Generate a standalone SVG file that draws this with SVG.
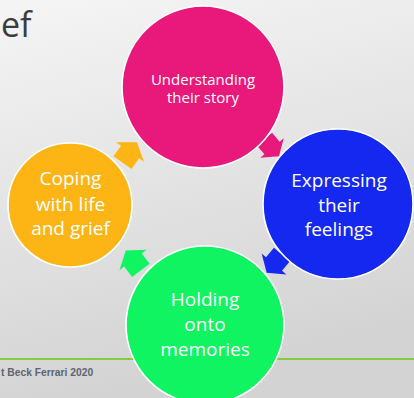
<svg xmlns="http://www.w3.org/2000/svg" width="414" height="398" viewBox="0 0 414 398">
  <defs>
    <linearGradient id="bg" x1="0" y1="0" x2="0.25" y2="1">
      <stop offset="0" stop-color="#f5f5f5"/>
      <stop offset="0.5" stop-color="#e4e4e4"/>
      <stop offset="1" stop-color="#d3d3d3"/>
    </linearGradient>
    <!-- block arrow pointing along +x, centred on the origin -->
    <path id="arrow" d="M-13,-11 L0,-11 L0,-17 L12,0 L0,17 L0,11 L-13,11 Z"/>
  </defs>
  <style>
    .node { stroke: #ffffff; stroke-width: 1.6; }
    .label { font-family: "Open Sans", "Liberation Sans", sans-serif; fill: #ffffff; text-anchor: middle; }
    .big { font-size: 19px; }
    .small { font-size: 15px; }
  </style>

  <rect width="414" height="398" fill="url(#bg)"/>

  <!-- slide title tail -->
  <text x="1" y="37" font-family="Open Sans, Liberation Sans, sans-serif" font-size="34" fill="#3c3c3c">ef</text>

  <!-- footer rule and credit -->
  <line x1="0" y1="359" x2="414" y2="359" stroke="#86cd3e" stroke-width="2"/>
  <text x="1" y="376" font-family="Liberation Sans, Arial, sans-serif" font-size="10.3" font-weight="bold" fill="#5d6470">t Beck Ferrari 2020</text>

  <!-- cycle connectors -->
  <g id="connectors">
    <use href="#arrow" fill="#fdb515" transform="translate(130,152) rotate(-55)"/>
    <use href="#arrow" fill="#e8197a" transform="translate(272,148) rotate(50) scale(0.9)"/>
    <use href="#arrow" fill="#1428f0" transform="translate(274,264) rotate(130) scale(0.95)"/>
    <use href="#arrow" fill="#10f462" transform="translate(133,260) rotate(233)"/>
  </g>

  <g id="node-story">
    <circle class="node" cx="203" cy="87" r="81" fill="#e8197a"/>
    <text class="label small" x="203" y="84.5" fill="#ffe6f2">Understanding</text>
    <text class="label small" x="203" y="103">their story</text>
  </g>

  <g id="node-feelings">
    <circle class="node" cx="338" cy="204" r="75" fill="#1428f0"/>
    <text class="label big" x="339" y="187">Expressing</text>
    <text class="label big" x="339" y="211.5">their</text>
    <text class="label big" x="339" y="236">feelings</text>
  </g>

  <g id="node-memories">
    <circle class="node" cx="205" cy="325" r="79" fill="#10f462"/>
    <text class="label big" x="205" y="306">Holding</text>
    <text class="label big" x="205" y="331">onto</text>
    <text class="label big" x="205" y="356">memories</text>
  </g>

  <g id="node-coping">
    <circle class="node" cx="70" cy="205" r="62" fill="#fdb515"/>
    <text class="label big" x="70.5" y="185">Coping</text>
    <text class="label big" x="70.5" y="210.5">with life</text>
    <text class="label big" x="70.5" y="235">and grief</text>
  </g>
</svg>
